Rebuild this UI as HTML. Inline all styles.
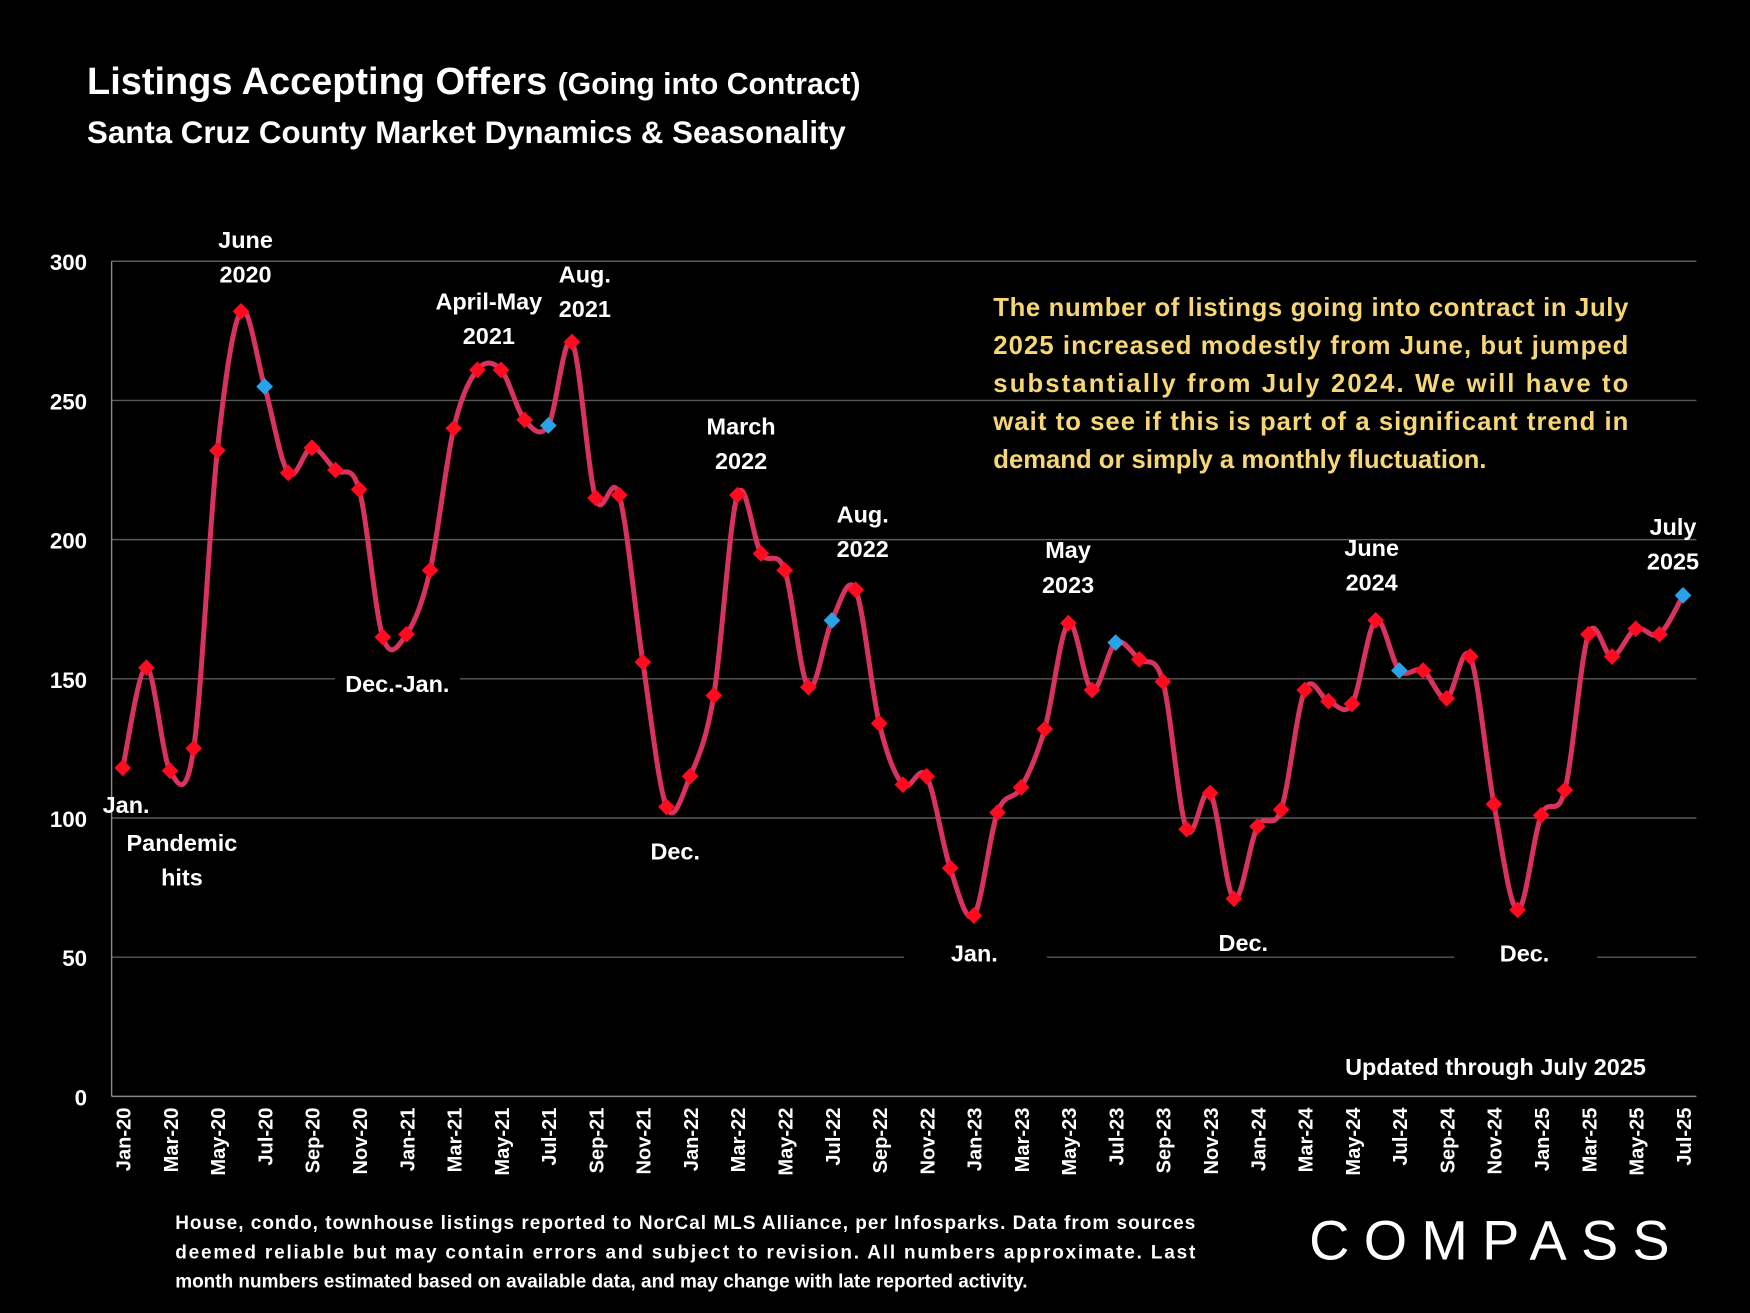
<!DOCTYPE html>
<html><head><meta charset="utf-8"><style>
html,body{margin:0;padding:0;background:#000;}
svg{display:block;}
text{font-family:"Liberation Sans",sans-serif;}
</style></head><body>
<svg id="chart" width="1750" height="1313" viewBox="0 0 1568 1176" preserveAspectRatio="none" xmlns="http://www.w3.org/2000/svg">
<rect width="1568" height="1176" fill="#000"/>
<text x="78" y="84" fill="#fff" font-size="34" font-weight="bold">Listings Accepting Offers <tspan font-size="27">(Going into Contract)</tspan></text>
<text x="78" y="128" fill="#fff" font-size="28" font-weight="bold">Santa Cruz County Market Dynamics &amp; Seasonality</text>
<g id="grid"></g>
<g id="labels-bg"></g>
<g id="series"></g>
<g id="xticks"></g>
<g id="annot" font-size="21" font-weight="bold" fill="#fff" text-anchor="middle">
<text x="220" y="222">June</text><text x="220" y="253">2020</text>
<text x="113" y="728">Jan.</text>
<text x="163" y="762">Pandemic</text><text x="163" y="793">hits</text>
<text x="438" y="277">April-May</text><text x="438" y="308">2021</text>
<text x="524" y="253">Aug.</text><text x="524" y="284">2021</text>
<text x="664" y="389">March</text><text x="664" y="420">2022</text>
<text x="773" y="468">Aug.</text><text x="773" y="499">2022</text>
<text x="957" y="500">May</text><text x="957" y="531">2023</text>
<text x="1229" y="498">June</text><text x="1229" y="529">2024</text>
<text x="1499" y="479">July</text><text x="1499" y="510">2025</text>
<text x="356" y="620">Dec.-Jan.</text>
<text x="605" y="770">Dec.</text>
<text x="873" y="861">Jan.</text>
<text x="1114" y="852">Dec.</text>
<text x="1366" y="861">Dec.</text>
<text x="1340" y="963">Updated through July 2025</text>
</g>
<g font-size="23" font-weight="bold" fill="#f7d774">
<text x="890" y="283" textLength="569" lengthAdjust="spacing">The number of listings going into contract in July</text>
<text x="890" y="317" textLength="569" lengthAdjust="spacing">2025 increased modestly from June, but jumped</text>
<text x="890" y="351" textLength="569" lengthAdjust="spacing">substantially from July 2024. We will have to</text>
<text x="890" y="385" textLength="569" lengthAdjust="spacing">wait to see if this is part of a significant trend in</text>
<text x="890" y="419">demand or simply a monthly fluctuation.</text>
</g>
<g font-size="17" font-weight="bold" fill="#fff">
<text x="157" y="1101" textLength="914" lengthAdjust="spacing">House, condo, townhouse listings reported to NorCal MLS Alliance, per Infosparks. Data from sources</text>
<text x="157" y="1127" textLength="914" lengthAdjust="spacing">deemed reliable but may contain errors and subject to revision. All numbers approximate. Last</text>
<text x="157" y="1153">month numbers estimated based on available data, and may change with late reported activity.</text>
</g>
<text x="1173" y="1128" fill="#fff" font-size="50" letter-spacing="9" textLength="332" lengthAdjust="spacing">COMPASS</text>
</svg>
<script>
const years=['20','21','22','23','24','25'];
const monthNames=['Jan','Feb','Mar','Apr','May','Jun','Jul','Aug','Sep','Oct','Nov','Dec'];
const categories=[];
years.forEach(y=>monthNames.forEach(m=>{if(categories.length<67)categories.push(m+'-'+y);}));
const values=[118,154,117,125,232,282,255,224,233,225,218,165,
166,189,240,261,261,243,241,271,215,216,156,104,
115,144,216,195,189,147,171,182,134,112,115,82,
65,102,111,132,170,146,163,157,149,96,109,71,
97,103,146,142,141,171,153,153,143,158,105,67,
101,110,166,158,168,166,180];
const highlighted=['Jul-20','Jul-21','Jul-22','Jul-23','Jul-24','Jul-25'];
const yTicks=[0,50,100,150,200,250,300];
const NS='http://www.w3.org/2000/svg';
const L=100,R=1520,T=234,B=982;
const x0=110,x1=1508;
function xs(i){return x0+(x1-x0)*i/(categories.length-1);}
function ys(v){return B-(B-T)*v/300;}
function mk(tag,attrs,parent){const e=document.createElementNS(NS,tag);for(const k in attrs)e.setAttribute(k,attrs[k]);parent.appendChild(e);return e;}
const grid=document.getElementById('grid');
yTicks.forEach(t=>{
  if(t>0){const l=mk('line',{x1:L,x2:R,y1:ys(t),y2:ys(t),stroke:'#5a5a5a','stroke-width':1.3},grid);
  
  }
  const tx=mk('text',{x:78,y:ys(t)+8,fill:'#fff','font-size':20,'font-weight':'bold','text-anchor':'end'},grid);
  tx.textContent=t;
  
  
});
const ax=mk('line',{x1:L,x2:L,y1:T,y2:B,stroke:'#888','stroke-width':1.3},grid);


const bx=mk('line',{x1:L,x2:R,y1:B,y2:B,stroke:'#888','stroke-width':1.3},grid);


// black boxes behind labels that sit over gridlines
const bg=document.getElementById('labels-bg');
[[300,598,112,26],[810,840,128,26],[1043,830,142,26],[1303,840,128,26]].forEach(r=>{
  const e=mk('rect',{x:r[0],y:r[1],width:r[2],height:r[3],fill:'#000'},bg);
  
  
});
// smooth line
const pts=values.map((v,i)=>[xs(i),ys(v)]);
let d='M'+pts[0][0]+','+pts[0][1];
for(let i=0;i<pts.length-1;i++){
  const p0=pts[Math.max(0,i-1)],p1=pts[i],p2=pts[i+1],p3=pts[Math.min(pts.length-1,i+2)];
  const k=1/6;
  d+=' C'+(p1[0]+(p2[0]-p0[0])*k)+','+(p1[1]+(p2[1]-p0[1])*k)+' '+(p2[0]-(p3[0]-p1[0])*k)+','+(p2[1]-(p3[1]-p1[1])*k)+' '+p2[0]+','+p2[1];
}
const s=document.getElementById('series');
const line=mk('path',{d:d,fill:'none',stroke:'#d8325f','stroke-width':4.5},s);


values.forEach((v,i)=>{
  const x=xs(i),y=ys(v),r=7.5;
  const blue=highlighted.includes(categories[i]);
  const m=mk('polygon',{points:`${x},${y-r} ${x+r},${y} ${x},${y+r} ${x-r},${y}`,fill:blue?'#29a3e8':'#ff0a1e'},s);
  
  
});
const xt=document.getElementById('xticks');
categories.forEach((c,i)=>{
  if(i%2)return;
  const x=xs(i)+7,y=992;
  const t=mk('text',{x:x,y:y,fill:'#fff','font-size':18,'font-weight':'bold','text-anchor':'end',transform:`rotate(-90 ${x} ${y})`},xt);
  t.textContent=c;
  
  
});
</script>
</body></html>
